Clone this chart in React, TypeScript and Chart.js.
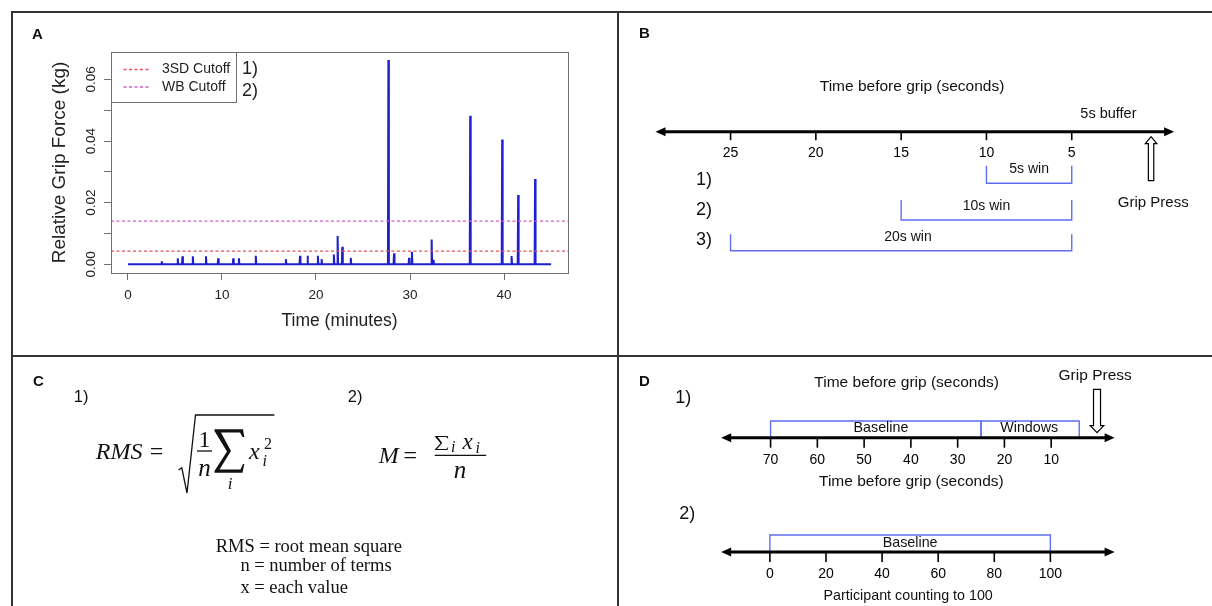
import React, { useEffect, useRef } from 'react';
import { Chart, registerables } from 'chart.js';

Chart.register(...registerables);

const SANS = '"Liberation Sans", Arial, Helvetica, sans-serif';
const SERIF = '"Liberation Serif", "Times New Roman", serif';

// ---------------- Panel A data ----------------
const traceRange = [0, 45];
const spikeTimes = [3.6, 5.3, 5.8, 6.9, 8.3, 9.6, 11.2, 11.8, 13.6, 16.8, 18.3, 19.1, 20.2, 20.6, 21.9, 22.3, 22.8, 23.7, 27.7, 28.3, 29.9, 30.2, 32.3, 32.5, 36.4, 39.8, 40.8, 41.5, 43.3];
const spikeForces = [0.001, 0.002, 0.0026, 0.0026, 0.0026, 0.002, 0.002, 0.002, 0.0028, 0.0017, 0.0028, 0.0028, 0.0028, 0.0017, 0.0032, 0.0092, 0.0057, 0.0021, 0.0663, 0.0036, 0.0021, 0.0041, 0.0081, 0.0015, 0.0482, 0.0405, 0.0027, 0.0225, 0.0277];
const cutoffNames = ['3SD Cutoff', 'WB Cutoff'];
const cutoffValues = [0.0043, 0.014];
const cutoffColors = ['#e2525a', '#d35bc9'];
const cutoffTags = ['1)', '2)'];
const xTicksA = [0, 10, 20, 30, 40];
const yTicksA = [0, 0.01, 0.02, 0.03, 0.04, 0.05, 0.06];
const yTickLabelsA = ['0.00', '', '0.02', '', '0.04', '', '0.06'];
const xRangeA = [-1.8, 46.8];
const yRangeA = [-0.0028, 0.0689];

// ---------------- Panel B data ----------------
const bAxisRange = [-1.0, 29.4];
const bAxisTicks = [25, 20, 15, 10, 5];
const bWindowFrom = [10, 15, 25];
const bWindowTo = [5, 5, 5];
const bWindowNames = ['5s win', '10s win', '20s win'];
const bWindowNameAt = [7.5, 10, 14.6];
const bRowTags = ['1)', '2)', '3)'];
const bGripAt = 0.35;

// ---------------- Panel D data ----------------
const d1AxisRange = [-3.56, 80.56];
const d1AxisTicks = [70, 60, 50, 40, 30, 20, 10];
const d1SegFrom = [70, 25];
const d1SegTo = [25, 4];
const d1SegNames = ['Baseline', 'Windows'];
const d1SegNameAt = [46.4, 14.7];
const d2AxisRange = [-17.36, 122.9];
const d2AxisTicks = [0, 20, 40, 60, 80, 100];
const d2SegFrom = [0];
const d2SegTo = [100];
const d2SegNames = ['Baseline'];
const dGripAt = 0.2;

const BRACKET = '#5f6ff0';

function traceData() {
  const pts: { x: number; y: number }[] = [{ x: traceRange[0], y: 0 }];
  spikeTimes.forEach((t, i) => {
    pts.push({ x: t - 0.05, y: 0 }, { x: t, y: spikeForces[i] }, { x: t + 0.05, y: 0 });
  });
  pts.push({ x: traceRange[1], y: 0 });
  return pts;
}

const rFramePlugin = {
  id: 'rFrame',
  afterDatasetsDraw(chart: any) {
    const { ctx, chartArea: ca } = chart;
    ctx.save();
    ctx.strokeStyle = '#707070';
    ctx.lineWidth = 1;
    const L = Math.round(ca.left) + 0.5;
    const T = Math.round(ca.top) + 0.5;
    ctx.strokeRect(L, T, Math.round(ca.right - ca.left), Math.round(ca.bottom - ca.top));
    const lw = 125, lh = 50;
    ctx.fillStyle = '#fff';
    ctx.fillRect(L, T, lw, lh);
    ctx.strokeRect(L, T, lw, lh);
    cutoffNames.forEach((name, i) => {
      const y = T + 17 + i * 17.5;
      ctx.setLineDash([3, 2.5]);
      ctx.strokeStyle = cutoffColors[i];
      ctx.lineWidth = 1.4;
      ctx.beginPath();
      ctx.moveTo(L + 12, y);
      ctx.lineTo(L + 38, y);
      ctx.stroke();
      ctx.setLineDash([]);
      ctx.fillStyle = '#1e1e1e';
      ctx.font = `14px ${SANS}`;
      ctx.textAlign = 'left';
      ctx.textBaseline = 'middle';
      ctx.fillText(name, L + 50.5, y);
      ctx.font = `18px ${SANS}`;
      ctx.fillText(cutoffTags[i], L + lw + 5.5, T + 17 + i * 21.3);
    });
    ctx.restore();
  },
};

function PanelA() {
  const ref = useRef<HTMLCanvasElement>(null);
  useEffect(() => {
    const chart = new Chart(ref.current as HTMLCanvasElement, {
      type: 'line',
      data: {
        datasets: [
          ...cutoffValues.map((v, i) => ({
            data: xRangeA.map((x) => ({ x, y: v })),
            borderColor: cutoffColors[i],
            borderWidth: 1.2,
            borderDash: [3, 2.5],
            pointRadius: 0,
            order: 0,
          })),
          {
            data: traceData(),
            borderColor: '#1f1fcf',
            borderWidth: 2,
            pointRadius: 0,
            tension: 0,
            order: 1,
          },
        ],
      },
      options: {
        animation: false,
        responsive: false,
        maintainAspectRatio: false,
        events: [],
        layout: { padding: { left: 0, top: 39, right: 49, bottom: 0 } },
        plugins: { legend: { display: false }, tooltip: { enabled: false } },
        scales: {
          x: {
            type: 'linear',
            min: xRangeA[0],
            max: xRangeA[1],
            afterBuildTicks: (a: any) => { a.ticks = xTicksA.map((v) => ({ value: v })); },
            afterFit: (a: any) => { a.height = 83; },
            grid: { drawOnChartArea: false, drawTicks: true, tickLength: 7, color: '#707070', lineWidth: 1 },
            border: { display: false },
            ticks: { font: { family: SANS, size: 13.5 }, color: '#222', padding: 7, maxRotation: 0, autoSkip: false, callback: (v: any) => String(v) },
            title: { display: true, text: 'Time (minutes)', font: { family: SANS, size: 17.5 }, color: '#222', padding: { top: 0, bottom: 24 } },
          },
          y: {
            type: 'linear',
            min: yRangeA[0],
            max: yRangeA[1],
            afterBuildTicks: (a: any) => { a.ticks = yTicksA.map((v) => ({ value: v })); },
            afterFit: (a: any) => { a.width = 98; },
            grid: { drawOnChartArea: false, drawTicks: true, tickLength: 7, color: '#707070', lineWidth: 1 },
            border: { display: false },
            ticks: { font: { family: SANS, size: 13.5 }, color: '#222', padding: 0, minRotation: 90, maxRotation: 90, crossAlign: 'center', autoSkip: false, callback: (_v: any, i: number) => yTickLabelsA[i] },
            title: { display: true, text: 'Relative Grip Force (kg)', font: { family: SANS, size: 19 }, color: '#222', padding: { top: 35.6, bottom: 0 } },
          },
        },
      } as any,
      plugins: [rFramePlugin],
    });
    return () => chart.destroy();
  }, []);
  return <canvas ref={ref} width={604} height={343} style={{ position: 'absolute', left: 13, top: 13, width: 604, height: 343 }} />;
}

type NumberLine = { axis: string; y: number; ticks: number[]; tickLen: number; labelY: number; size: number };
type DText = { text: string; axis: string; x: number; y: number; size: number };
type HArrow = { axis: string; x: number; tail: number; tip: number; shaft: number; head: number; headLen: number };

function makeDiagramPlugin(lines: NumberLine[], texts: DText[], arrows: HArrow[]) {
  return {
    id: 'diagram',
    afterDatasetsDraw(chart: any) {
      const { ctx, chartArea: ca } = chart;
      const ys = chart.scales.y;
      ctx.save();
      for (const nl of lines) {
        const xs = chart.scales[nl.axis];
        const y = ys.getPixelForValue(nl.y);
        ctx.strokeStyle = '#000';
        ctx.fillStyle = '#000';
        ctx.lineWidth = 3;
        ctx.beginPath();
        ctx.moveTo(ca.left + 6, y);
        ctx.lineTo(ca.right - 6, y);
        ctx.stroke();
        for (const [tip, dir] of [[ca.left, 1], [ca.right, -1]]) {
          ctx.beginPath();
          ctx.moveTo(tip, y);
          ctx.lineTo(tip + dir * 10, y - 4.5);
          ctx.lineTo(tip + dir * 10, y + 4.5);
          ctx.closePath();
          ctx.fill();
        }
        ctx.lineWidth = 1.6;
        ctx.font = `${nl.size}px ${SANS}`;
        ctx.textAlign = 'center';
        ctx.textBaseline = 'middle';
        for (const v of nl.ticks) {
          const x = xs.getPixelForValue(v);
          ctx.beginPath();
          ctx.moveTo(x, y);
          ctx.lineTo(x, y + nl.tickLen);
          ctx.stroke();
          ctx.fillText(String(v), x, ys.getPixelForValue(nl.labelY));
        }
      }
      for (const a of arrows) {
        const x = chart.scales[a.axis].getPixelForValue(a.x);
        const yTail = ys.getPixelForValue(a.tail);
        const yTip = ys.getPixelForValue(a.tip);
        const d = yTip < yTail ? 1 : -1;
        const yb = yTip + d * a.headLen;
        ctx.beginPath();
        ctx.moveTo(x - a.shaft / 2, yTail);
        ctx.lineTo(x - a.shaft / 2, yb);
        ctx.lineTo(x - a.head / 2, yb);
        ctx.lineTo(x, yTip);
        ctx.lineTo(x + a.head / 2, yb);
        ctx.lineTo(x + a.shaft / 2, yb);
        ctx.lineTo(x + a.shaft / 2, yTail);
        ctx.closePath();
        ctx.fillStyle = '#fff';
        ctx.fill();
        ctx.strokeStyle = '#000';
        ctx.lineWidth = 1.2;
        ctx.stroke();
      }
      ctx.fillStyle = '#111';
      ctx.textAlign = 'center';
      ctx.textBaseline = 'middle';
      for (const t of texts) {
        ctx.font = `${t.size}px ${SANS}`;
        ctx.fillText(t.text, chart.scales[t.axis].getPixelForValue(t.x), ys.getPixelForValue(t.y));
      }
      ctx.restore();
    },
  };
}

function bracket(axis: string, from: number, to: number, legY: number, barY: number) {
  return {
    xAxisID: axis,
    data: [{ x: from, y: legY }, { x: from, y: barY }, { x: to, y: barY }, { x: to, y: legY }],
    borderColor: BRACKET,
    borderWidth: 1.4,
    pointRadius: 0,
    tension: 0,
    fill: false,
  };
}

function PanelB() {
  const ref = useRef<HTMLCanvasElement>(null);
  useEffect(() => {
    const legY = [152.7, 187, 221.3];
    const barY = [170.3, 207, 237.7];
    const nameY = [156.3, 193.3, 224.3];
    const tagY = [167, 197, 227];
    const texts: DText[] = [
      { text: 'Time before grip (seconds)', axis: 'x', x: 14.36, y: 73.7, size: 15.5 },
      { text: '5s buffer', axis: 'x', x: 2.85, y: 101.3, size: 14.5 },
      { text: 'Grip Press', axis: 'x', x: 0.22, y: 189.7, size: 15 },
      ...bWindowNames.map((n, i) => ({ text: n, axis: 'x', x: bWindowNameAt[i], y: nameY[i], size: 14 })),
      ...bRowTags.map((n, i) => ({ text: n, axis: 'x', x: 26.56, y: tagY[i], size: 18 })),
    ];
    const chart = new Chart(ref.current as HTMLCanvasElement, {
      type: 'line',
      data: { datasets: bWindowFrom.map((f, i) => bracket('x', f, bWindowTo[i], legY[i], barY[i])) },
      options: {
        animation: false,
        responsive: false,
        events: [],
        layout: { padding: { left: 36.5, right: 37.9, top: 0, bottom: 0 } },
        plugins: { legend: { display: false }, tooltip: { enabled: false } },
        scales: {
          x: { type: 'linear', reverse: true, min: bAxisRange[0], max: bAxisRange[1], display: false },
          y: { type: 'linear', reverse: true, min: 0, max: 343, display: false },
        },
      } as any,
      plugins: [makeDiagramPlugin(
        [{ axis: 'x', y: 118.7, ticks: bAxisTicks, tickLen: 8.5, labelY: 140.3, size: 14 }],
        texts,
        [{ axis: 'x', x: bGripAt, tail: 167.7, tip: 123.7, shaft: 5.4, head: 11.6, headLen: 7 }],
      )],
    });
    return () => chart.destroy();
  }, []);
  return <canvas ref={ref} width={593} height={343} style={{ position: 'absolute', left: 619, top: 13, width: 593, height: 343 }} />;
}

function PanelD() {
  const ref = useRef<HTMLCanvasElement>(null);
  useEffect(() => {
    const texts: DText[] = [
      { text: 'Time before grip (seconds)', axis: 'x', x: 40.9, y: 24.7, size: 15.5 },
      { text: 'Grip Press', axis: 'x', x: 0.6, y: 18, size: 15.5 },
      { text: '1)', axis: 'x', x: 88.7, y: 39.7, size: 18 },
      ...d1SegNames.map((n, i) => ({ text: n, axis: 'x', x: d1SegNameAt[i], y: 70.3, size: 14.3 })),
      { text: 'Time before grip (seconds)', axis: 'x', x: 39.9, y: 124, size: 15.5 },
      { text: '2)', axis: 'x2', x: -29.5, y: 156.3, size: 18 },
      ...d2SegNames.map((n, i) => ({ text: n, axis: 'x2', x: (d2SegFrom[i] + d2SegTo[i]) / 2, y: 185, size: 14.3 })),
      { text: 'Participant counting to 100', axis: 'x2', x: 49.3, y: 238, size: 14.3 },
    ];
    const chart = new Chart(ref.current as HTMLCanvasElement, {
      type: 'line',
      data: {
        datasets: [
          ...d1SegFrom.map((f, i) => bracket('x', f, d1SegTo[i], 79.7, 63)),
          ...d2SegFrom.map((f, i) => bracket('x2', f, d2SegTo[i], 194, 177)),
        ],
      },
      options: {
        animation: false,
        responsive: false,
        events: [],
        layout: { padding: { left: 102.2, right: 97.4, top: 0, bottom: 0 } },
        plugins: { legend: { display: false }, tooltip: { enabled: false } },
        scales: {
          x: { type: 'linear', axis: 'x', reverse: true, min: d1AxisRange[0], max: d1AxisRange[1], display: false },
          x2: { type: 'linear', axis: 'x', min: d2AxisRange[0], max: d2AxisRange[1], display: false },
          y: { type: 'linear', reverse: true, min: 0, max: 248, display: false },
        },
      } as any,
      plugins: [makeDiagramPlugin(
        [
          { axis: 'x', y: 79.7, ticks: d1AxisTicks, tickLen: 10, labelY: 102, size: 14 },
          { axis: 'x2', y: 194, ticks: d2AxisTicks, tickLen: 10, labelY: 216.3, size: 14 },
        ],
        texts,
        [{ axis: 'x', x: dGripAt, tail: 31.3, tip: 74.7, shaft: 7, head: 13.5, headLen: 7 }],
      )],
    });
    return () => chart.destroy();
  }, []);
  return <canvas ref={ref} width={593} height={248} style={{ position: 'absolute', left: 619, top: 358, width: 593, height: 248 }} />;
}

type TP = { x: number; base: number; size: number; serif?: boolean; italic?: boolean; bold?: boolean; center?: boolean; children: React.ReactNode };
function Txt({ x, base, size, serif, italic, bold, center, children }: TP) {
  const k = serif ? 0.8375 : 0.8465;
  return (
    <span
      style={{
        position: 'absolute',
        left: x,
        top: base - k * size,
        fontSize: size,
        lineHeight: 1,
        fontFamily: serif ? SERIF : SANS,
        fontStyle: italic ? 'italic' : 'normal',
        fontWeight: bold ? 700 : 400,
        whiteSpace: 'pre',
        transform: center ? 'translateX(-50%)' : undefined,
        color: '#111',
      }}
    >
      {children}
    </span>
  );
}

const SIGMA_PTS = [[0, 0], [0.956, 0], [1, 0.177], [0.94, 0.177], [0.856, 0.074], [0.218, 0.074], [0.553, 0.498], [0.168, 0.925], [0.873, 0.925], [0.956, 0.797], [1, 0.797], [0.94, 1], [0, 1], [0, 0.961], [0.419, 0.509], [0, 0.039]];
function sigmaPath(x0: number, y0: number, w: number, h: number) {
  return SIGMA_PTS.map(([u, v], i) => `${i ? 'L' : 'M'}${(x0 + u * w).toFixed(2)} ${(y0 + v * h).toFixed(2)}`).join(' ') + ' Z';
}

function PanelC() {
  return (
    <>
      <svg width={1212} height={606} style={{ position: 'absolute', left: 0, top: 0 }}>
        <path d="M178.5 470 L181.8 467.8 L187 493 L195.5 415 L274.4 415" fill="none" stroke="#111" strokeWidth={1.3} />
        <line x1={197} y1={451} x2={212} y2={451} stroke="#111" strokeWidth={1.3} />
        <path d={sigmaPath(214.5, 429.3, 29.8, 43.4)} fill="#111" />
        <line x1={434.8} y1={455.3} x2={486.2} y2={455.3} stroke="#111" strokeWidth={1.3} />
        <path d={sigmaPath(434.8, 436, 13.5, 14)} fill="#111" />
      </svg>
      <Txt x={81.2} base={401.5} size={16.5} center>1)</Txt>
      <Txt x={355.2} base={401.5} size={16.5} center>2)</Txt>
      <Txt x={95.8} base={459.3} size={24} serif italic>RMS</Txt>
      <Txt x={149.7} base={459.3} size={24} serif>=</Txt>
      <Txt x={204.5} base={447.5} size={24} serif center>1</Txt>
      <Txt x={204.5} base={475.5} size={25} serif italic center>n</Txt>
      <Txt x={230} base={489.3} size={17} serif italic center>i</Txt>
      <Txt x={249} base={459.3} size={24} serif italic>x</Txt>
      <Txt x={264} base={449.3} size={16} serif>2</Txt>
      <Txt x={262.5} base={466} size={16} serif italic>i</Txt>
      <Txt x={378.7} base={463} size={24} serif italic>M</Txt>
      <Txt x={403.5} base={463} size={24} serif>=</Txt>
      <Txt x={451} base={452.7} size={16} serif italic>i</Txt>
      <Txt x={462.5} base={449.3} size={23} serif italic>x</Txt>
      <Txt x={475.5} base={453.5} size={16} serif italic>i</Txt>
      <Txt x={460} base={477.7} size={25} serif italic center>n</Txt>
      <Txt x={215.7} base={552.7} size={18.5} serif>RMS = root mean square</Txt>
      <Txt x={240.4} base={571} size={18.5} serif>n = number of terms</Txt>
      <Txt x={240.4} base={593.7} size={18.5} serif>x = each value</Txt>
    </>
  );
}

export default function App() {
  const line = '#333';
  return (
    <div style={{ position: 'fixed', left: 0, top: 0, width: 1212, height: 606, background: '#fff', overflow: 'hidden' }}>
      <div style={{ position: 'absolute', left: 11, top: 11, width: 1201, height: 2, background: line }} />
      <div style={{ position: 'absolute', left: 11, top: 11, width: 2, height: 595, background: line }} />
      <div style={{ position: 'absolute', left: 617, top: 11, width: 2, height: 595, background: line }} />
      <div style={{ position: 'absolute', left: 11, top: 355, width: 1201, height: 2, background: line }} />
      <PanelA />
      <PanelB />
      <PanelD />
      <PanelC />
      <Txt x={32} base={38.3} size={15} bold>A</Txt>
      <Txt x={638.9} base={37.7} size={15} bold>B</Txt>
      <Txt x={33} base={385.3} size={15} bold>C</Txt>
      <Txt x={638.9} base={386} size={15} bold>D</Txt>
    </div>
  );
}
